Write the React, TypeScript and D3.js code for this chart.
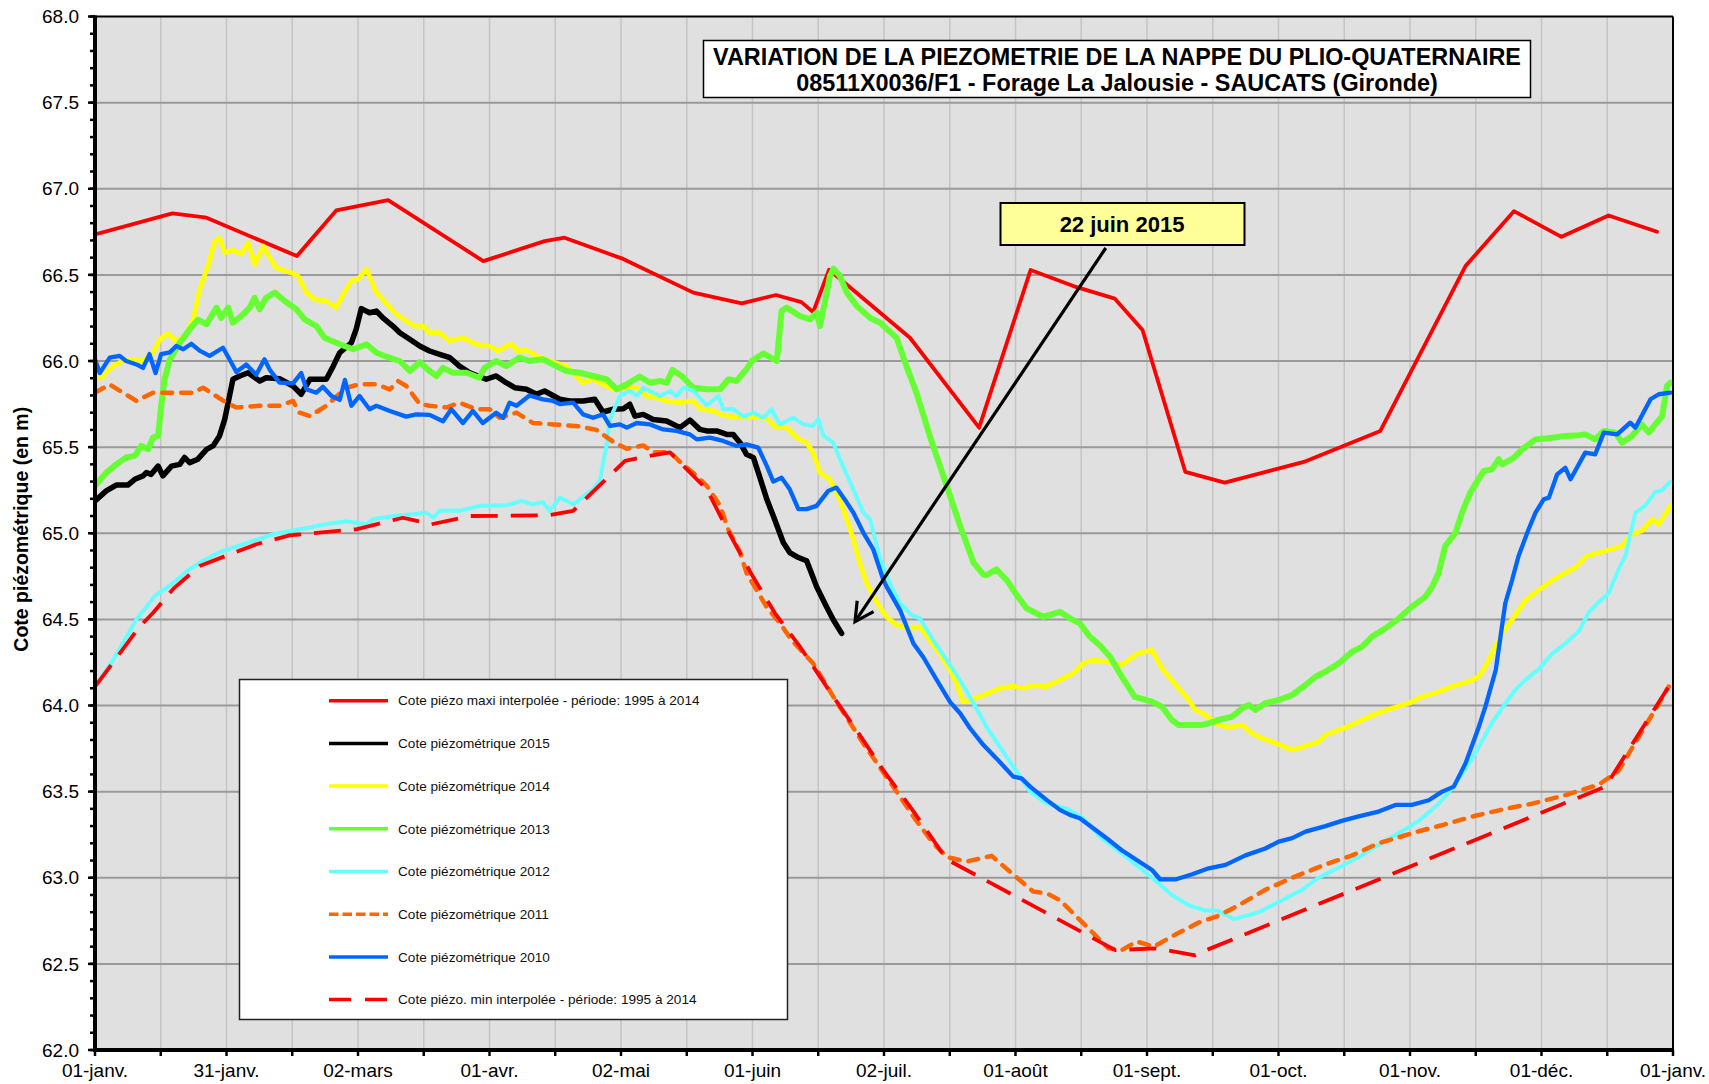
import React, { Component } from "react";
import * as d3 from "d3";

// x axis labels, one every twelfth of the year
const monthLabels = ["01-janv.", "31-janv.", "02-mars", "01-avr.", "02-mai", "01-juin", "02-juil.", "01-août", "01-sept.", "01-oct.", "01-nov.", "01-déc.", "01-janv."];

// all series: [day of year, level (m)]
const maxInterp = [[0,66.735],[17.9,66.857],[25.8,66.832],[46.7,66.609],[55.8,66.874],[67.8,66.934],[89.8,66.58],[104,66.696],[108.6,66.716],[121.8,66.596],[138.4,66.397],[149.6,66.335],[157.5,66.383],[163.4,66.342],[166.1,66.284],[169.8,66.53],[188.5,66.135],[204.5,65.613],[216.4,66.528],[226.3,66.435],[235.9,66.362],[242.3,66.18],[252.2,65.356],[261.3,65.294],[279.6,65.414],[297.3,65.594],[317,66.551],[328.2,66.87],[339.2,66.721],[350.1,66.845],[361.3,66.75]];

const level2015 = [[0,65.188],[2.6,65.246],[4.9,65.28],[7.6,65.28],[9.2,65.313],[11.1,65.333],[11.9,65.352],[13,65.342],[14.6,65.39],[15.7,65.333],[17.7,65.39],[19.6,65.4],[20.7,65.44],[21.9,65.41],[23.8,65.43],[25.8,65.487],[27.3,65.507],[28.8,65.565],[30,65.661],[30.8,65.758],[31.9,65.894],[33.5,65.913],[35.4,65.932],[38.1,65.884],[39.6,65.903],[42.7,65.897],[45.8,65.855],[47.7,65.807],[49.7,65.894],[51.6,65.894],[53.5,65.894],[55.1,65.97],[56.6,66.048],[59.3,66.106],[60.4,66.184],[61.6,66.304],[63.5,66.28],[65.1,66.29],[66.6,66.25],[68.9,66.203],[70.5,66.164],[72.8,66.126],[75.1,66.087],[77.4,66.058],[79.7,66.039],[82.1,66.019],[84.3,65.97],[86.7,65.932],[90.5,65.894],[92.8,65.913],[95.1,65.874],[97.1,65.845],[99.8,65.836],[102.1,65.807],[104,65.826],[107.5,65.778],[109.8,65.768],[112.9,65.768],[115.6,65.778],[117.5,65.704],[119.9,65.72],[122.2,65.723],[123.7,65.749],[124.9,65.68],[126.8,65.69],[129.1,65.66],[132.2,65.652],[135.3,65.613],[137.6,65.657],[139.9,65.603],[141.5,65.594],[143.8,65.594],[146.1,65.574],[147.6,65.574],[149.2,65.526],[150.7,65.458],[152.3,65.439],[153.8,65.323],[155.4,65.197],[156.9,65.1],[159.2,64.946],[160.7,64.888],[162.7,64.859],[164.6,64.84],[166.1,64.743],[166.9,64.69],[169.2,64.573],[170.8,64.496],[172.7,64.419]];

const level2014 = [[0,65.913],[1.5,65.903],[4.2,65.97],[6.5,66.0],[8.8,66.01],[11.1,66.0],[13.4,66.048],[15,66.126],[16.9,66.16],[18.8,66.116],[20.7,66.145],[22.7,66.24],[24.2,66.416],[26.1,66.55],[27.7,66.696],[28.8,66.716],[30,66.63],[31.9,66.644],[33.8,66.62],[35.4,66.687],[37,66.56],[38.9,66.667],[41.6,66.55],[43.1,66.53],[45.8,66.509],[47,66.493],[48.9,66.397],[50.8,66.358],[53.5,66.348],[55.8,66.31],[57.4,66.387],[59.3,66.464],[60.8,66.474],[62.8,66.532],[65.1,66.397],[66.6,66.358],[69.3,66.28],[72,66.232],[73.9,66.203],[75.9,66.203],[77.4,66.164],[79.7,66.164],[82.1,66.116],[85.1,66.135],[88.2,66.097],[91.3,66.087],[93.2,66.058],[96.3,66.1],[97.8,66.058],[99.8,66.064],[102.1,66.03],[105.2,66.0],[109,65.97],[112.9,65.874],[115.2,65.894],[119.9,65.836],[123,65.845],[125.3,65.845],[127.6,65.797],[129.9,65.787],[132.2,65.768],[135.3,65.758],[138.4,65.768],[139.9,65.723],[143,65.71],[145.3,65.685],[149.2,65.671],[153,65.677],[155.4,65.665],[157.7,65.613],[160,65.613],[162.3,65.555],[164.6,65.526],[166.1,65.468],[167.7,65.352],[170,65.313],[172.3,65.197],[173.9,65.081],[175.4,64.965],[176.9,64.83],[178.5,64.709],[180.8,64.6],[183.1,64.515],[185.4,64.467],[188.5,64.448],[190.8,64.457],[193.1,64.38],[195.4,64.3],[197.8,64.206],[199.3,64.129],[200.8,64.022],[202.4,64.032],[205.5,64.06],[209.3,64.1],[212.4,64.113],[214.7,64.1],[217,64.115],[220.1,64.11],[223.2,64.148],[226.3,64.187],[228.6,64.245],[230.9,64.264],[234,64.254],[237.5,64.235],[241,64.3],[244.5,64.322],[246.8,64.216],[248.4,64.167],[250.7,64.1],[253,64.032],[254.5,63.974],[256.8,63.945],[259.9,63.887],[262.2,63.873],[265.3,63.887],[267.6,63.839],[269.9,63.81],[272.3,63.79],[276.9,63.742],[280,63.765],[283.1,63.79],[284.6,63.829],[287.7,63.858],[290.8,63.887],[293.1,63.916],[296.2,63.951],[300,63.984],[303.9,64.013],[307,64.051],[310,64.071],[313.9,64.11],[317.7,64.138],[320.1,64.167],[321.6,64.225],[323.1,64.3],[325.5,64.419],[328.5,64.525],[330.9,64.612],[333.9,64.67],[337,64.725],[340.1,64.77],[342.4,64.8],[345.1,64.868],[349.4,64.897],[353.2,64.926],[355.5,64.994],[357.8,65.014],[360.2,65.081],[361.7,65.052],[364.4,65.159]];

const level2013 = [[0,65.275],[2.6,65.352],[4.9,65.4],[7.2,65.44],[9.2,65.449],[10.7,65.507],[12.3,65.488],[13.4,65.555],[14.6,65.565],[15.3,65.74],[16.1,65.894],[17.3,66.01],[19.6,66.106],[21.9,66.184],[23.8,66.24],[25.8,66.213],[28.1,66.31],[29.2,66.25],[30.8,66.31],[31.9,66.222],[33.8,66.26],[35.8,66.31],[36.9,66.367],[38.1,66.3],[39.6,66.367],[41.6,66.397],[43.9,66.348],[46.6,66.3],[48.5,66.242],[51.2,66.203],[53.1,66.135],[56.6,66.097],[59.7,66.068],[62.8,66.097],[65.1,66.048],[67.4,66.025],[70.5,66.0],[72.8,65.942],[75.1,65.994],[77.4,65.942],[79,65.913],[80.5,65.96],[82.8,65.932],[85.9,65.932],[88.9,65.903],[90.1,65.96],[92.8,66.0],[95.1,65.97],[98.2,66.02],[100.5,66.0],[103.6,66.01],[107.5,65.96],[109,65.942],[112.1,65.932],[115.2,65.913],[118.3,65.894],[120.7,65.836],[123,65.865],[126,65.91],[128.4,65.874],[130.7,65.884],[132.2,65.874],[133.6,65.948],[135.7,65.913],[138.4,65.845],[141.5,65.836],[144.6,65.836],[146.5,65.894],[148.4,65.884],[150.7,65.952],[151.9,66.0],[154.6,66.044],[157.7,66.0],[158.8,66.29],[160,66.31],[163.1,66.26],[165.4,66.242],[166.9,66.28],[167.7,66.203],[170,66.493],[170.8,66.536],[172.3,66.493],[173.9,66.397],[176.2,66.32],[179.3,66.25],[181.6,66.222],[185.4,66.135],[187.7,65.97],[190,65.816],[193.1,65.565],[197,65.275],[200.1,65.043],[203.2,64.83],[205.5,64.76],[206.2,64.757],[208.5,64.79],[210.9,64.728],[213.2,64.641],[215.5,64.564],[219.3,64.515],[223.2,64.544],[225.5,64.506],[227.8,64.477],[230.1,64.4],[232.4,64.35],[234.8,64.283],[237.5,64.167],[240.5,64.05],[244.5,64.022],[246.8,63.993],[249.1,63.916],[250.7,63.887],[253.8,63.887],[256.1,63.887],[257.6,63.897],[259.9,63.916],[263,63.935],[265.3,63.984],[266.9,64.003],[268.4,63.974],[270.7,64.013],[273.8,64.032],[276.9,64.061],[280,64.119],[282.3,64.167],[284.6,64.196],[287.7,64.245],[290.8,64.312],[293.1,64.342],[295.4,64.4],[298.5,64.448],[301.6,64.506],[304.6,64.574],[307.7,64.631],[309.3,64.69],[310.8,64.77],[312.3,64.926],[314.7,65.004],[316.2,65.12],[318.1,65.236],[321.2,65.362],[323.1,65.371],[324.7,65.43],[325.5,65.4],[328.2,65.439],[330.1,65.487],[333.2,65.545],[337,65.555],[340.1,65.565],[343.2,65.569],[344.7,65.574],[347,65.545],[349,65.594],[351.7,65.584],[353.2,65.526],[355.5,65.565],[357.8,65.632],[359.4,65.584],[360.9,65.632],[362.5,65.68],[363.6,65.855],[364.4,65.874]];

const level2012 = [[0,64.109],[4.2,64.264],[9.6,64.5],[13.8,64.635],[18,64.71],[21.1,64.777],[24.2,64.83],[28.8,64.89],[34.2,64.936],[41.2,64.994],[47.3,65.023],[53.5,65.052],[58.1,65.07],[62.8,65.052],[64.3,65.081],[68.9,65.1],[73.6,65.11],[76.6,65.12],[78.2,65.09],[79.7,65.13],[84.3,65.13],[88.9,65.159],[95.1,65.162],[98.6,65.187],[101.3,65.168],[103.6,65.18],[105.2,65.13],[107.5,65.207],[110.6,65.168],[115.2,65.255],[116.8,65.31],[118.3,65.507],[119.1,65.66],[121.4,65.797],[123.7,65.826],[125.3,65.797],[126.8,65.845],[130.7,65.797],[133,65.826],[134.5,65.797],[136.1,65.845],[138.4,65.826],[141.5,65.743],[144.2,65.797],[145.3,65.72],[147.6,65.72],[150,65.677],[152.3,65.7],[154.6,65.671],[156.5,65.72],[158.4,65.632],[161.5,65.671],[163.8,65.632],[166.1,65.623],[167.3,65.665],[168.5,65.565],[170.8,65.526],[172.3,65.43],[175.4,65.255],[177.7,65.12],[179.3,65.08],[181.6,64.85],[183.9,64.709],[186.2,64.593],[188.9,64.525],[190.8,64.506],[193.9,64.38],[197,64.264],[200.1,64.148],[203.2,64.013],[206.2,63.877],[209.3,63.76],[212.4,63.645],[216.3,63.5],[220.1,63.432],[224.7,63.403],[228.6,63.345],[232.4,63.239],[237.5,63.142],[244.5,63.0],[249.1,62.9],[253,62.84],[256.8,62.81],[259.5,62.81],[263.4,62.76],[269.2,62.8],[271.5,62.83],[275.3,62.88],[279.2,62.93],[283,63.0],[287.7,63.06],[292.3,63.12],[296.9,63.19],[301.6,63.26],[306.2,63.33],[310.8,63.43],[313.9,63.52],[317,63.63],[320.1,63.76],[323.1,63.9],[326.2,64.01],[328.5,64.09],[330.9,64.15],[333.9,64.21],[337,64.3],[340.1,64.36],[343.2,64.43],[345.5,64.54],[347.8,64.6],[350.1,64.65],[352.4,64.79],[354,64.87],[356.3,65.12],[358.6,65.16],[360.9,65.24],[362.5,65.25],[364.4,65.3]];

const level2011 = [[0,65.816],[3.4,65.864],[9.6,65.768],[13.4,65.816],[22.7,65.816],[25,65.845],[30.4,65.758],[32.7,65.73],[38,65.74],[42.7,65.74],[45.8,65.768],[47.3,65.7],[49.7,65.68],[53.5,65.74],[58.1,65.845],[61.2,65.865],[65.1,65.865],[68.2,65.835],[70.1,65.884],[72,65.855],[75.1,65.75],[77.4,65.74],[81.3,65.73],[84.3,65.758],[88.2,65.72],[91.3,65.72],[93.6,65.67],[97.5,65.7],[101.3,65.64],[106,65.632],[112.1,65.62],[116,65.6],[119.9,65.53],[123,65.49],[126.8,65.51],[129.1,65.47],[133,65.47],[135.3,65.415],[138.4,65.35],[141.5,65.275],[144.6,65.16],[146.5,65.02],[149.2,64.89],[150.7,64.77],[155.4,64.57],[158.4,64.48],[161.1,64.38],[166.1,64.245],[170.8,64.05],[177.7,63.78],[184.6,63.53],[189.3,63.355],[193.9,63.2],[197,63.12],[201.6,63.094],[207.4,63.127],[211.6,63.036],[217,62.92],[220.1,62.91],[223.2,62.87],[227,62.775],[230.9,62.678],[234.4,62.59],[237.5,62.58],[241,62.63],[244.9,62.6],[249.9,62.67],[255.3,62.74],[259.9,62.78],[264.5,62.84],[270.7,62.93],[276.9,63.0],[284.6,63.077],[290.8,63.13],[296.9,63.2],[306.2,63.27],[312.3,63.31],[319.3,63.36],[326.2,63.4],[332.4,63.43],[340.1,63.48],[347.8,63.54],[352.4,63.62],[357.1,63.82],[361.7,64.01],[364,64.11]];

const level2010 = [[0,66.01],[1.1,65.93],[3.4,66.02],[5.7,66.03],[7.2,66.0],[9.6,65.98],[11.1,65.96],[12.6,66.04],[14,65.93],[15.3,66.04],[17.3,66.05],[18.8,66.087],[20.4,66.068],[22.3,66.1],[24.2,66.06],[26.5,66.03],[29.6,66.077],[31.1,66.01],[32.7,65.936],[35,65.98],[37.3,65.92],[39.2,66.01],[40.4,65.95],[42.7,65.874],[45.8,65.87],[47.7,65.93],[48.9,65.836],[51.2,65.816],[52.7,65.85],[54.7,65.797],[56.6,65.774],[57.8,65.89],[59.3,65.74],[61.2,65.797],[63.5,65.72],[65.1,65.74],[68.2,65.71],[72,65.677],[74.3,65.69],[77.4,65.687],[80.5,65.65],[82.4,65.72],[85.1,65.64],[87.4,65.71],[89.7,65.64],[92.8,65.7],[94.4,65.67],[95.9,65.758],[97.5,65.74],[100.5,65.8],[103.6,65.777],[106,65.768],[107.5,65.75],[110.6,65.758],[112.9,65.69],[115.2,65.67],[117.5,65.69],[119.1,65.623],[121.4,65.632],[123,65.613],[125.3,65.64],[128.4,65.632],[131.4,65.603],[134.5,65.594],[137.6,65.574],[139.2,65.545],[142.2,65.555],[145.3,65.536],[148.4,65.507],[150.7,65.516],[153.4,65.497],[155.4,65.39],[156.9,65.3],[158.8,65.323],[160.7,65.255],[162.7,65.14],[164.6,65.14],[166.9,65.159],[169.6,65.246],[171.5,65.265],[173.9,65.178],[175.4,65.12],[177.7,65.004],[180,64.907],[182.3,64.733],[183.1,64.69],[186.2,64.554],[189.3,64.36],[191.6,64.28],[194.7,64.148],[197.8,64.02],[200.1,63.955],[202.4,63.868],[205.5,63.77],[208.5,63.693],[212.4,63.587],[214.3,63.577],[216.3,63.529],[220.1,63.452],[223.2,63.394],[225.5,63.365],[227.8,63.345],[230.9,63.287],[234,63.229],[237.5,63.16],[244.5,63.045],[246.4,62.99],[249.9,62.99],[253.8,63.02],[257.6,63.055],[261.5,63.075],[266.1,63.13],[270.7,63.17],[273.8,63.21],[276.9,63.23],[280,63.268],[284.6,63.3],[288.4,63.33],[292.3,63.356],[296.9,63.384],[300.8,63.423],[304.6,63.423],[308.5,63.45],[311.6,63.5],[314.3,63.529],[317,63.664],[320.1,63.877],[321.6,63.993],[324,64.206],[325.1,64.4],[326.2,64.593],[327.8,64.73],[329.3,64.87],[331.6,65.023],[333.2,65.12],[335.1,65.197],[336.3,65.207],[338.2,65.342],[340.1,65.38],[341.3,65.313],[344.7,65.468],[347,65.458],[349,65.584],[352.1,65.574],[355.1,65.642],[356.3,65.613],[359.8,65.778],[361.7,65.807],[364.4,65.816]];

const minInterp = [[0,64.109],[10.3,64.457],[13.5,64.54],[18.2,64.68],[24.2,64.81],[30.4,64.87],[37.3,64.936],[45,64.988],[60.4,65.023],[71.2,65.09],[77.8,65.052],[86.7,65.1],[104.8,65.104],[110.6,65.13],[122.6,65.42],[126.4,65.44],[133,65.47],[141.5,65.255],[146.5,65.01],[151.9,64.76],[157.3,64.535],[163.1,64.34],[170.8,64.05],[176.6,63.84],[182.3,63.626],[188.9,63.4],[197,63.107],[236,62.58],[245.3,62.59],[254.5,62.55],[256.1,62.57],[349.4,63.53],[364,64.11]];

// annotation arrow: [day, level] from the label box to the end of 2015
const arrowFrom = [233.8, 66.656];
const arrowTo = [175.8, 64.487];

class App extends Component {
  svgRef = React.createRef();

  componentDidMount() {
    this.draw();
  }

  componentDidUpdate() {
    this.draw();
  }

  draw() {
    var font = "'Liberation Sans', Arial, sans-serif";
    var svg = d3.select(this.svgRef.current);
    svg.selectAll("*").remove();

    var series = [
      { name: "Cote piézo maxi interpolée - période: 1995 à 2014", data: maxInterp, color: "#FF0000", width: 3.8, dash: null, cap: "round" },
      { name: "Cote piézométrique 2015", data: level2015, color: "#000000", width: 5.5, dash: null, cap: "round" },
      { name: "Cote piézométrique 2014", data: level2014, color: "#FFFF00", width: 4.8, dash: null, cap: "round" },
      { name: "Cote piézométrique 2013", data: level2013, color: "#66FF33", width: 6, dash: null, cap: "round" },
      { name: "Cote piézométrique 2012", data: level2012, color: "#66FFFF", width: 4, dash: null, cap: "round" },
      { name: "Cote piézométrique 2011", data: level2011, color: "#FF6600", width: 4.5, dash: "10 9", cap: "round" },
      { name: "Cote piézométrique 2010", data: level2010, color: "#0066FF", width: 4.3, dash: null, cap: "round" },
      { name: "Cote piézo. min interpolée - période: 1995 à 2014", data: minInterp, color: "#FF0000", width: 3.8, dash: "27 13", cap: "butt" },
    ];

    // scales
    var x = d3.scaleLinear().domain([0, 365]).range([95, 1673]);
    var y = d3.scaleLinear().domain([62, 68]).range([1050, 16.5]);

    // plot background
    svg.append("rect")
      .attr("x", x(0)).attr("y", y(68))
      .attr("width", x(365) - x(0)).attr("height", y(62) - y(68))
      .attr("fill", "#e0e0e0");

    // vertical grid, every half month
    var halfMonths = d3.range(1, 24).map(i => (i * 365) / 24);
    svg.append("g").selectAll("line")
      .data(halfMonths)
      .join("line")
      .attr("x1", d => x(d)).attr("x2", d => x(d))
      .attr("y1", y(68)).attr("y2", y(62))
      .attr("stroke", "#c4c4c4")
      .attr("stroke-width", 1.5);

    // horizontal grid
    var yMajor = d3.range(0, 13).map(i => 62 + i * 0.5);
    svg.append("g").selectAll("line")
      .data(yMajor.slice(1, 12))
      .join("line")
      .attr("x1", x(0)).attr("x2", x(365))
      .attr("y1", d => y(d)).attr("y2", d => y(d))
      .attr("stroke", "#9a9a9a")
      .attr("stroke-width", 2);

    // series
    svg.append("clipPath").attr("id", "plotclip")
      .append("rect")
      .attr("x", x(0)).attr("y", y(68))
      .attr("width", x(365) - x(0)).attr("height", y(62) - y(68));

    var line = d3.line().x(d => x(d[0])).y(d => y(d[1]));
    var lines = svg.append("g").attr("clip-path", "url(#plotclip)");
    series.forEach(s => {
      lines.append("path")
        .attr("d", line(s.data))
        .attr("fill", "none")
        .attr("stroke", s.color)
        .attr("stroke-width", s.width)
        .attr("stroke-linejoin", "round")
        .attr("stroke-linecap", s.cap)
        .attr("stroke-dasharray", s.dash);
    });

    // frame
    svg.append("line").attr("x1", x(0)).attr("x2", x(365)).attr("y1", y(68)).attr("y2", y(68))
      .attr("stroke", "#000").attr("stroke-width", 2);
    svg.append("line").attr("x1", x(365)).attr("x2", x(365)).attr("y1", y(68)).attr("y2", y(62))
      .attr("stroke", "#000").attr("stroke-width", 2);

    // Y axis
    var yMinor = d3.range(0, 61).map(i => 62 + i * 0.1);
    svg.append("g").selectAll("line")
      .data(yMinor)
      .join("line")
      .attr("x1", 90).attr("x2", 95)
      .attr("y1", d => y(d)).attr("y2", d => y(d))
      .attr("stroke", "#000").attr("stroke-width", 2.5);
    svg.append("g").selectAll("line")
      .data(yMajor)
      .join("line")
      .attr("x1", 88).attr("x2", 95)
      .attr("y1", d => y(d)).attr("y2", d => y(d))
      .attr("stroke", "#000").attr("stroke-width", 2.5);
    svg.append("g").selectAll("text")
      .data(yMajor)
      .join("text")
      .attr("x", 79)
      .attr("y", d => y(d))
      .attr("dy", "0.35em")
      .attr("text-anchor", "end")
      .attr("font-family", font)
      .attr("font-size", 19)
      .text(d => d.toFixed(1));
    svg.append("line").attr("x1", x(0)).attr("x2", x(0)).attr("y1", y(68) - 1).attr("y2", y(62) + 2)
      .attr("stroke", "#000").attr("stroke-width", 4);

    svg.append("text")
      .attr("transform", `translate(21, ${(y(68) + y(62)) / 2 - 4}) rotate(-90)`)
      .attr("text-anchor", "middle")
      .attr("dy", "0.35em")
      .attr("font-family", font)
      .attr("font-size", 19.5)
      .attr("font-weight", "bold")
      .text("Cote piézométrique (en m)");

    // X axis
    var xTicks = d3.range(0, 25).map(i => (i * 365) / 24);
    svg.append("g").selectAll("line")
      .data(xTicks)
      .join("line")
      .attr("x1", d => x(d)).attr("x2", d => x(d))
      .attr("y1", y(62)).attr("y2", y(62) + 6)
      .attr("stroke", "#000").attr("stroke-width", 2.5);
    svg.append("line").attr("x1", x(0) - 2).attr("x2", x(365) + 1).attr("y1", y(62)).attr("y2", y(62))
      .attr("stroke", "#000").attr("stroke-width", 4);
    svg.append("g").selectAll("text")
      .data(monthLabels)
      .join("text")
      .attr("x", (d, i) => x((i * 365) / 12))
      .attr("y", 1077)
      .attr("text-anchor", "middle")
      .attr("font-family", font)
      .attr("font-size", 19)
      .text(d => d);

    // title box
    var title = svg.append("g");
    title.append("rect")
      .attr("x", 703.5).attr("y", 40.5).attr("width", 827).attr("height", 57)
      .attr("fill", "#fff").attr("stroke", "#000").attr("stroke-width", 1.5);
    title.append("text")
      .attr("x", 1117).attr("y", 65)
      .attr("text-anchor", "middle")
      .attr("font-family", font).attr("font-size", 23.4).attr("font-weight", "bold")
      .text("VARIATION DE LA PIEZOMETRIE DE LA NAPPE DU PLIO-QUATERNAIRE");
    title.append("text")
      .attr("x", 1117).attr("y", 90.5)
      .attr("text-anchor", "middle")
      .attr("font-family", font).attr("font-size", 23.4).attr("font-weight", "bold")
      .text("08511X0036/F1 - Forage La Jalousie - SAUCATS (Gironde)");

    // annotation
    var x0 = x(arrowFrom[0]), y0 = y(arrowFrom[1]);
    var x1 = x(arrowTo[0]), y1 = y(arrowTo[1]);
    var ang = Math.atan2(y0 - y1, x0 - x1);
    var head = 21, spread = (28 * Math.PI) / 180;
    svg.append("line")
      .attr("x1", x0).attr("y1", y0).attr("x2", x1).attr("y2", y1)
      .attr("stroke", "#000").attr("stroke-width", 3.2);
    svg.append("path")
      .attr("d", `M${x1 + head * Math.cos(ang - spread)},${y1 + head * Math.sin(ang - spread)}L${x1},${y1}L${x1 + head * Math.cos(ang + spread)},${y1 + head * Math.sin(ang + spread)}`)
      .attr("fill", "none").attr("stroke", "#000").attr("stroke-width", 3.2)
      .attr("stroke-linejoin", "miter");

    svg.append("rect")
      .attr("x", 1000.5).attr("y", 203).attr("width", 244).attr("height", 42)
      .attr("fill", "#ffff99").attr("stroke", "#000").attr("stroke-width", 2);
    svg.append("text")
      .attr("x", 1122).attr("y", 232)
      .attr("text-anchor", "middle")
      .attr("font-family", font).attr("font-size", 22).attr("font-weight", "bold")
      .text("22 juin 2015");

    // legend
    var legend = svg.append("g");
    legend.append("rect")
      .attr("x", 239.5).attr("y", 679.5).attr("width", 548).attr("height", 340)
      .attr("fill", "#fff").attr("stroke", "#222").attr("stroke-width", 1.5);
    var rows = legend.selectAll("g.row")
      .data(series)
      .join("g")
      .attr("class", "row")
      .attr("transform", (d, i) => `translate(0, ${700.7 + i * 42.7})`);
    rows.append("line")
      .attr("x1", 329).attr("x2", 388)
      .attr("stroke", d => d.color)
      .attr("stroke-width", 3.5)
      .attr("stroke-linecap", "butt")
      .attr("stroke-dasharray", (d, i) => (i === 5 ? "9.5 4" : i === 7 ? "22 14" : null));
    rows.append("text")
      .attr("x", 398)
      .attr("dy", "0.35em")
      .attr("font-family", font)
      .attr("font-size", 13.6)
      .attr("fill", "#111")
      .text(d => d.name);
  }

  render() {
    return (
      <svg
        ref={this.svgRef}
        width={1709}
        height={1084}
        style={{ position: "absolute", left: 0, top: 0, display: "block", background: "#fff" }}
      ></svg>
    );
  }
}

export default App;
